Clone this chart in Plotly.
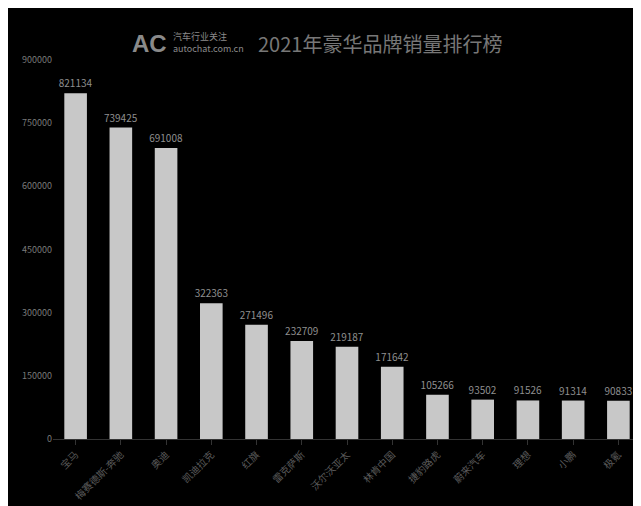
import plotly.graph_objects as go

brands = ["宝马", "梅赛德斯-奔驰", "奥迪", "凯迪拉克", "红旗", "雷克萨斯", "沃尔沃亚太",
          "林肯中国", "捷豹路虎", "蔚来汽车", "理想", "小鹏", "极氪"]
sales = [821134, 739425, 691008, 322363, 271496, 232709, 219187,
         171642, 105266, 93502, 91526, 91314, 90833]
yticks = [0, 150000, 300000, 450000, 600000, 750000, 900000]

fig = go.Figure(go.Bar(
    x=brands, y=sales, marker_color="#c8c8c8", marker_line_width=0,
    text=[str(v) for v in sales], textposition="outside", constraintext="none",
    textfont=dict(color="#8f8f8f", size=10), cliponaxis=False,
))
L, R, T, B = 45, 8, 52, 75
pw, ph = 641 - L - R, 506 - T - B
fig.update_layout(
    width=641, height=506, paper_bgcolor="#000", plot_bgcolor="#000",
    margin=dict(l=L, r=R, t=T, b=B), bargap=0.5, showlegend=False,
    font=dict(family="Noto Sans CJK SC", color="#8a8a8a"),
    xaxis=dict(tickangle=-45, tickfont=dict(size=10, color="#5a5a5a"),
               showline=True, linecolor="#333", ticks="outside", tickcolor="#333"),
    yaxis=dict(range=[0, 900000], tickvals=yticks, showgrid=False, zeroline=False,
               tickfont=dict(size=9, color="#7a7a7a"), tickformat="d"),
)
def px(x): return (x - L) / pw
def py(y): return 1 + (T - y) / ph
fig.add_annotation(text="<b>AC</b>", xref="paper", yref="paper", x=px(122), y=py(20), xanchor="left",
                   showarrow=False, font=dict(size=24, color="#8a8a8a", family="Liberation Sans"))
fig.add_annotation(text="汽车行业关注<br>autochat.com.cn", xref="paper", yref="paper", xanchor="left",
                   x=px(163), y=py(20), showarrow=False, align="left",
                   font=dict(size=9, color="#8a8a8a"))
fig.add_annotation(text="2021年豪华品牌销量排行榜", xref="paper", yref="paper", xanchor="left",
                   x=px(248), y=py(19), showarrow=False,
                   font=dict(size=20, color="#777777"))
fig.write_html("out.html")
